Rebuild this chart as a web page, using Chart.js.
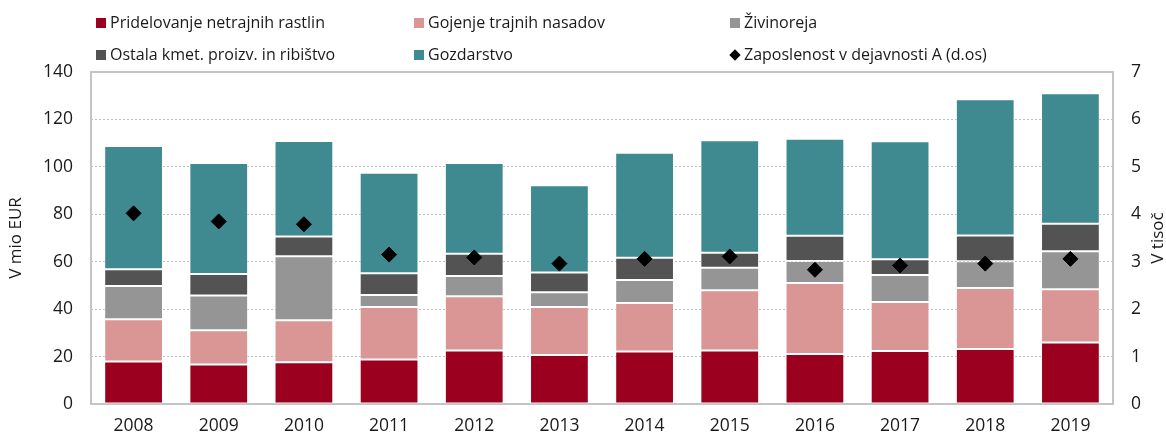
<!DOCTYPE html>
<html>
<head>
<meta charset="utf-8">
<script src="https://cdn.jsdelivr.net/npm/chart.js@4.4.1/dist/chart.umd.min.js"></script>
<style>
  html, body { margin: 0; padding: 0; background: #fff; }
  #wrap { position: relative; width: 1166px; height: 434px; }
  canvas { position: absolute; left: 0; top: 0; }
  .lg { position: absolute; font-family: 'Open Sans', sans-serif; font-size: 16px; color: #1a1a1a; white-space: nowrap; line-height: 20px; }
  .sw { display: inline-block; width: 10px; height: 10px; margin-right: 4px; vertical-align: 0px; }
  .dm { display: inline-block; width: 8px; height: 8px; margin: 0 5px 0 2px; background: #000; transform: rotate(45deg); vertical-align: 1px; }
</style>
</head>
<body>
<div id="wrap">
  <canvas id="c" width="1166" height="434"></canvas>
  <div class="lg" style="left:96px; top:12px;"><span class="sw" style="background:#9C001F"></span>Pridelovanje netrajnih rastlin</div>
  <div class="lg" style="left:414px; top:12px;"><span class="sw" style="background:#D99694"></span>Gojenje trajnih nasadov</div>
  <div class="lg" style="left:730px; top:12px;"><span class="sw" style="background:#959595"></span>Živinoreja</div>
  <div class="lg" style="left:96px; top:44px;"><span class="sw" style="background:#535353"></span>Ostala kmet. proizv. in ribištvo</div>
  <div class="lg" style="left:414px; top:44px;"><span class="sw" style="background:#3F8990"></span>Gozdarstvo</div>
  <div class="lg" style="left:729px; top:44px;"><span class="dm"></span>Zaposlenost v dejavnosti A (d.os)</div>
</div>
<script>
const years = ['2008','2009','2010','2011','2012','2013','2014','2015','2016','2017','2018','2019'];
const pridelovanje = [17.9, 16.7, 17.6, 18.8, 22.6, 20.7, 22.1, 22.6, 21.1, 22.4, 23.2, 25.9];
const gojenje      = [17.8, 14.4, 17.7, 22.1, 22.8, 20.2, 20.5, 25.4, 29.9, 20.6, 25.7, 22.5];
const zivinoreja   = [14.1, 14.7, 27.0, 5.1, 8.6, 6.2, 9.7, 9.5, 9.3, 11.4, 11.3, 16.0];
const ostala       = [7.0, 9.0, 8.3, 9.1, 9.4, 8.3, 9.4, 6.3, 10.7, 6.6, 10.9, 11.6];
const gozdarstvo   = [52.0, 46.8, 40.3, 42.4, 38.2, 36.8, 44.3, 47.4, 40.9, 49.8, 57.4, 55.0];
const zaposlenost  = [4.02, 3.85, 3.79, 3.15, 3.09, 2.96, 3.06, 3.11, 2.83, 2.92, 2.96, 3.06];
const leftTicks = [0, 20, 40, 60, 80, 100, 120, 140];
const rightTicks = [0, 1, 2, 3, 4, 5, 6, 7];

const FONT = "'Open Sans', sans-serif";
const TXT = '#1a1a1a';
const edge = 'rgba(255,255,255,0.55)';

function bar(label, data, color) {
  return { type: 'bar', label, data, backgroundColor: color, borderColor: edge, borderWidth: 1,
           borderSkipped: false, yAxisID: 'y', order: 2, categoryPercentage: 1, barPercentage: 0.69 };
}

const framePlugin = {
  id: 'frame',
  beforeDatasetsDraw(chart) {
    const { ctx, chartArea: a } = chart;
    ctx.save();
    ctx.strokeStyle = '#C4C4C4';
    ctx.lineWidth = 2;
    ctx.strokeRect(a.left, a.top, a.right - a.left, a.bottom - a.top);
    ctx.restore();
  },
  afterDraw(chart) {
    const { ctx, chartArea: a } = chart;
    ctx.save();
    ctx.fillStyle = TXT;
    ctx.font = '17px ' + FONT;
    ctx.textAlign = 'center';
    ctx.textBaseline = 'middle';
    ctx.translate(1158, (a.top + a.bottom) / 2);
    ctx.rotate(-Math.PI / 2);
    ctx.fillText('V tisoč', 0, 0);
    ctx.restore();
  }
};

new Chart(document.getElementById('c'), {
  data: {
    labels: years,
    datasets: [
      bar('Pridelovanje netrajnih rastlin', pridelovanje, '#9C001F'),
      bar('Gojenje trajnih nasadov', gojenje, '#D99694'),
      bar('Živinoreja', zivinoreja, '#959595'),
      bar('Ostala kmet. proizv. in ribištvo', ostala, '#535353'),
      bar('Gozdarstvo', gozdarstvo, '#3F8990'),
      { type: 'line', label: 'Zaposlenost v dejavnosti A (d.os)', data: zaposlenost, yAxisID: 'y1',
        showLine: false, pointStyle: 'rectRot', pointRadius: 7.5, pointHoverRadius: 7.5,
        pointBackgroundColor: '#000', pointBorderColor: '#000', pointBorderWidth: 1, order: 0 }
    ]
  },
  options: {
    responsive: false,
    animation: false,
    events: [],
    layout: { padding: { top: 72, left: 0, right: 0, bottom: 0 } },
    plugins: { legend: { display: false }, tooltip: { enabled: false } },
    scales: {
      x: {
        stacked: true,
        grid: { display: false, drawTicks: false },
        border: { display: false },
        ticks: { color: TXT, font: { family: FONT, size: 17.5 }, padding: 12, maxRotation: 0 },
        afterFit(s) { s.height = 30; }
      },
      y: {
        stacked: true, position: 'left', min: 0, max: 140,
        afterBuildTicks(s) { s.ticks = leftTicks.map(v => ({ value: v })); },
        grid: { color: '#BDBDBD', lineWidth: 1, drawTicks: false },
        border: { display: false, dash: [2, 2] },
        ticks: { color: TXT, font: { family: FONT, size: 17.5 }, padding: 18 },
        title: { display: true, text: 'V mio EUR', color: TXT, font: { family: FONT, size: 17 }, padding: { top: 6, bottom: 4 } },
        afterFit(s) { s.width = 91; }
      },
      y1: {
        position: 'right', min: 0, max: 7,
        afterBuildTicks(s) { s.ticks = rightTicks.map(v => ({ value: v })); },
        grid: { display: false, drawTicks: false },
        border: { display: false },
        ticks: { color: TXT, font: { family: FONT, size: 17.5 }, padding: 18 },
        afterFit(s) { s.width = 53; }
      }
    }
  },
  plugins: [framePlugin]
});
</script>
</body>
</html>
